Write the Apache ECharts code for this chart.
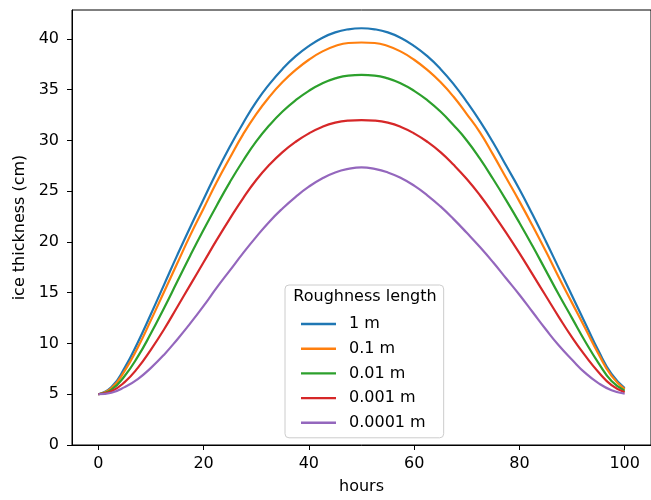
<!DOCTYPE html>
<html>
<head>
<meta charset="utf-8">
<script src="https://cdn.jsdelivr.net/npm/echarts@6/dist/echarts.min.js"></script>
<style>html,body{margin:0;padding:0;background:#fff}#c{width:651px;height:500px}</style>
</head>
<body>
<div id="c"></div>
<script>
const hours = [0, 2.5, 5, 7.5, 10, 12.5, 15, 17.5, 20, 22.5, 25, 27.5, 30, 32.5, 35, 37.5, 40, 42.5, 45, 47.5, 50,
               52.5, 55, 57.5, 60, 62.5, 65, 67.5, 70, 72.5, 75, 77.5, 80, 82.5, 85, 87.5, 90, 92.5, 95, 97.5, 100];
const rough1 =     [5, 5.7, 7.6, 10.1, 12.9, 15.8, 18.7, 21.5, 24.2, 26.9, 29.4, 31.7, 33.8, 35.55, 37.05, 38.3, 39.3, 40.1, 40.65, 40.95, 41.05,
                    40.95, 40.65, 40.1, 39.3, 38.3, 37.05, 35.55, 33.8, 31.9, 29.8, 27.5, 25.2, 22.7, 20.1, 17.4, 14.7, 12.0, 9.3, 7.0, 5.6];
const rough01 =    [5, 5.6, 7.3, 9.6, 12.3, 15.1, 17.9, 20.7, 23.3, 25.9, 28.3, 30.6, 32.6, 34.3, 35.75, 36.95, 37.95, 38.75, 39.3, 39.6, 39.65,
                    39.6, 39.3, 38.75, 37.95, 36.95, 35.75, 34.3, 32.6, 30.8, 28.6, 26.3, 24.0, 21.6, 19.1, 16.5, 14.0, 11.5, 9.0, 6.8, 5.5];
const rough001 =   [5, 5.45, 6.8, 8.7, 11.0, 13.5, 16.1, 18.7, 21.2, 23.6, 25.9, 28.0, 29.9, 31.5, 32.85, 33.97, 34.89, 35.61, 36.11, 36.39, 36.45,
                    36.39, 36.11, 35.61, 34.89, 33.97, 32.85, 31.5, 30.0, 28.2, 26.2, 24.1, 21.9, 19.6, 17.2, 14.8, 12.5, 10.2, 8.1, 6.3, 5.35];
const rough0001 =  [5, 5.3, 6.2, 7.6, 9.4, 11.4, 13.6, 15.8, 18.0, 20.2, 22.3, 24.3, 26.1, 27.6, 28.85, 29.87, 30.69, 31.33, 31.75, 31.95, 32.0,
                    31.95, 31.75, 31.33, 30.69, 29.87, 28.85, 27.6, 26.2, 24.6, 22.8, 20.9, 18.9, 16.8, 14.7, 12.6, 10.6, 8.8, 7.2, 5.9, 5.2];
const rough00001 = [5, 5.15, 5.7, 6.5, 7.6, 8.9, 10.4, 12.0, 13.7, 15.5, 17.2, 18.9, 20.5, 22.0, 23.3, 24.45, 25.45, 26.25, 26.85, 27.2, 27.35,
                    27.2, 26.85, 26.3, 25.55, 24.6, 23.5, 22.25, 20.9, 19.5, 18.0, 16.4, 14.8, 13.1, 11.4, 9.8, 8.4, 7.1, 6.1, 5.4, 5.05];
const seriesNames = ['1 m', '0.1 m', '0.01 m', '0.001 m', '0.0001 m'];
const seriesValues = [rough1, rough01, rough001, rough0001, rough00001];
const colors = ['#1f77b4', '#ff7f0e', '#2ca02c', '#d62728', '#9467bd'];
const xTicks = [0, 20, 40, 60, 80, 100];
const yTicks = [0, 5, 10, 15, 20, 25, 30, 35, 40];
const legendTitle = 'Roughness length';
const xName = 'hours';
const yName = 'ice thickness (cm)';

const FONT = 'DejaVu Sans';
const FS = 16;
const chart = echarts.init(document.getElementById('c'), null, {renderer: 'canvas'});
chart.setOption({
  animation: false,
  color: colors,
  textStyle: {fontFamily: FONT},
  title: {
    text: legendTitle,
    left: 365, top: 289,
    textAlign: 'center',
    padding: 0,
    textStyle: {fontFamily: FONT, fontSize: FS, fontWeight: 'normal', color: '#000'}
  },
  legend: {
    orient: 'vertical',
    left: 285, top: 285,
    padding: [31, 18, 7, 16],
    icon: 'rect',
    itemWidth: 35, itemHeight: 2.4, itemGap: 8.7,
    backgroundColor: 'rgba(255,255,255,0.8)',
    borderColor: '#cccccc', borderWidth: 1, borderRadius: 4,
    textStyle: {fontFamily: FONT, fontSize: FS, color: '#000', padding: [0, 0, 0, 8], lineHeight: 16},
    data: seriesNames
  },
  grid: {
    left: 72, top: 10, bottom: 53.5, right: -7.4,
    show: true, borderColor: '#000', borderWidth: 1, backgroundColor: 'transparent',
    containLabel: false
  },
  xAxis: {
    type: 'value', min: -5, max: 105,
    name: xName, nameLocation: 'middle', nameGap: 34,
    nameTextStyle: {fontFamily: FONT, fontSize: FS, color: '#000'},
    axisLine: {show: true, onZero: false, lineStyle: {color: '#000', width: 1}},
    axisTick: {show: true, inside: false, length: 5, lineStyle: {color: '#000'}, customValues: xTicks},
    axisLabel: {fontFamily: FONT, fontSize: FS, color: '#000', margin: 11, customValues: xTicks},
    splitLine: {show: false}
  },
  yAxis: {
    type: 'value', min: 0, max: 42.85,
    name: yName, nameLocation: 'middle', nameGap: 40, nameRotate: 90,
    nameTextStyle: {fontFamily: FONT, fontSize: FS, color: '#000'},
    axisLine: {show: true, onZero: false, lineStyle: {color: '#000', width: 1}},
    axisTick: {show: true, inside: false, length: 5, lineStyle: {color: '#000'}, customValues: yTicks},
    axisLabel: {fontFamily: FONT, fontSize: FS, color: '#000', margin: 13, customValues: yTicks},
    splitLine: {show: false}
  },
  series: seriesNames.map((n, i) => ({
    name: n,
    type: 'line',
    data: hours.map((h, j) => [h, seriesValues[i][j]]),
    smooth: 0.5,
    symbol: 'none',
    showSymbol: false,
    lineStyle: {width: 2.2, color: colors[i]},
    itemStyle: {color: colors[i]},
    z: 2 + i
  }))
});
</script>
</body>
</html>
